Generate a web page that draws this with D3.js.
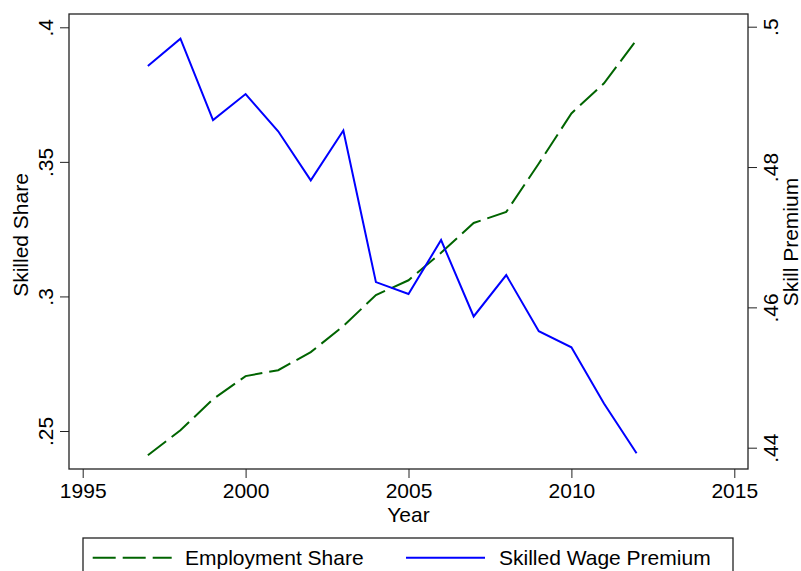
<!DOCTYPE html>
<html lang="en">
<head>
<meta charset="UTF-8" />
<title>Skilled Share and Skill Premium</title>
<script src="https://d3js.org/d3.v7.min.js"></script>
<style>
    body { margin: 0; background: #fff; }
    svg { display: block; font-family: "Liberation Sans", Arial, sans-serif; }
    .tick text { font-size: 21px; fill: #000; }
</style>
</head>
<body>
<svg width="801" height="571"></svg>
<script>
    // data
    const years = [1997, 1998, 1999, 2000, 2001, 2002, 2003, 2004, 2005, 2006, 2007, 2008, 2009, 2010, 2011, 2012];
    const employmentShare = [0.241, 0.2503, 0.2618, 0.2704, 0.2726, 0.2793, 0.289, 0.3005, 0.306, 0.3162, 0.3273, 0.3314, 0.3494, 0.368, 0.3792, 0.3953];
    const wagePremium = [0.4944, 0.4983, 0.4867, 0.4904, 0.4851, 0.4781, 0.4852, 0.4636, 0.4619, 0.4696, 0.4587, 0.4646, 0.4566, 0.4543, 0.4463, 0.4392];
    const xTicks = [1995, 2000, 2005, 2010, 2015];
    const leftTicks = [0.25, 0.3, 0.35, 0.4];
    const rightTicks = [0.44, 0.46, 0.48, 0.5];
    const legendLabels = ["Employment Share", "Skilled Wage Premium"];

    const plot = { left: 69, right: 748, top: 14, bottom: 469 };
    const svg = d3.select("svg");

    const x = d3.scaleLinear().domain([1995, 2015]).range([82.7, 734.3]);
    const yL = d3.scaleLinear().domain([0.25, 0.4]).range([431, 27.3]);
    const yR = d3.scaleLinear().domain([0.44, 0.5]).range([447.7, 26.7]);

    const fmt = v => String(v).replace(/^0/, "");

    // frame
    svg.append("rect")
        .attr("x", plot.left).attr("y", plot.top)
        .attr("width", plot.right - plot.left).attr("height", plot.bottom - plot.top)
        .attr("fill", "none").attr("stroke", "#222").attr("stroke-width", 1.3);

    // x axis
    const xAxis = svg.append("g")
        .attr("transform", `translate(0,${plot.bottom})`)
        .call(d3.axisBottom(x).tickValues(xTicks).tickFormat(d3.format("d")).tickSize(9).tickPadding(8));
    xAxis.select(".domain").remove();
    xAxis.selectAll(".tick line").attr("stroke", "#222");
    xAxis.selectAll(".tick text").attr("dy", "0").attr("y", 29.3);

    // left axis
    const lAxis = svg.append("g")
        .attr("transform", `translate(${plot.left},0)`)
        .call(d3.axisLeft(yL).tickValues(leftTicks).tickFormat(fmt).tickSize(9));
    lAxis.select(".domain").remove();
    lAxis.selectAll(".tick line").attr("stroke", "#222");
    lAxis.selectAll(".tick text")
        .attr("x", null).attr("dy", null)
        .attr("text-anchor", "middle")
        .attr("transform", "translate(-15.7,0) rotate(-90)");

    // right axis
    const rAxis = svg.append("g")
        .attr("transform", `translate(${plot.right},0)`)
        .call(d3.axisRight(yR).tickValues(rightTicks).tickFormat(fmt).tickSize(9));
    rAxis.select(".domain").remove();
    rAxis.selectAll(".tick line").attr("stroke", "#222");
    rAxis.selectAll(".tick text")
        .attr("x", null).attr("dy", null)
        .attr("text-anchor", "middle")
        .attr("transform", "translate(30,0) rotate(-90)");

    // axis titles
    svg.append("text")
        .attr("transform", "translate(28,235) rotate(-90)")
        .attr("text-anchor", "middle").style("font-size", "21px")
        .text("Skilled Share");
    svg.append("text")
        .attr("transform", "translate(798,242) rotate(-90)")
        .attr("text-anchor", "middle").style("font-size", "21px")
        .text("Skill Premium");
    svg.append("text")
        .attr("x", (x(2005))).attr("y", 521.7)
        .attr("text-anchor", "middle").style("font-size", "21px")
        .text("Year");

    // lines
    const empLine = d3.line().x((d, i) => x(years[i])).y(d => yL(d));
    const wageLine = d3.line().x((d, i) => x(years[i])).y(d => yR(d));

    svg.append("path")
        .datum(employmentShare)
        .attr("d", empLine)
        .attr("fill", "none").attr("stroke", "#006400")
        .attr("stroke-width", 2).attr("stroke-dasharray", "23,7");

    svg.append("path")
        .datum(wagePremium)
        .attr("d", wageLine)
        .attr("fill", "none").attr("stroke", "#0000ff")
        .attr("stroke-width", 2);

    // legend
    const legend = svg.append("g");
    legend.append("rect")
        .attr("x", 83).attr("y", 538).attr("width", 650).attr("height", 50)
        .attr("fill", "none").attr("stroke", "#222").attr("stroke-width", 1.3);
    const items = [
        { label: legendLabels[0], color: "#006400", dash: "23,7", x0: 92.7, tx: 185 },
        { label: legendLabels[1], color: "#0000ff", dash: null, x0: 406, tx: 499 }
    ];
    items.forEach(it => {
        legend.append("line")
            .attr("x1", it.x0).attr("x2", it.x0 + 79)
            .attr("y1", 557.7).attr("y2", 557.7)
            .attr("stroke", it.color).attr("stroke-width", 2)
            .attr("stroke-dasharray", it.dash);
        legend.append("text")
            .attr("x", it.tx).attr("y", 565)
            .style("font-size", "21px")
            .text(it.label);
    });
</script>
</body>
</html>
